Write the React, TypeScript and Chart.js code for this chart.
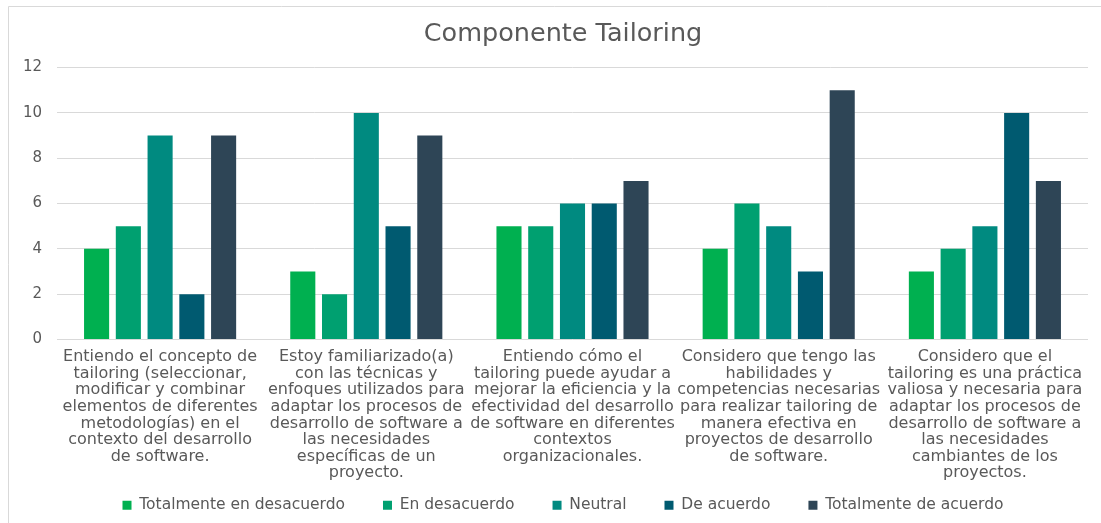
import React, { useEffect, useRef } from "react";
import { Chart, registerables } from "chart.js";

Chart.register(...registerables);

const categories: string[][] = [
  ["Entiendo el concepto de", "tailoring (seleccionar,", "modificar y combinar", "elementos de diferentes", "metodologías) en el", "contexto del desarrollo", "de software."],
  ["Estoy familiarizado(a)", "con las técnicas y", "enfoques utilizados para", "adaptar los procesos de", "desarrollo de software a", "las necesidades", "específicas de un", "proyecto."],
  ["Entiendo cómo el", "tailoring puede ayudar a", "mejorar la eficiencia y la", "efectividad del desarrollo", "de software en diferentes", "contextos", "organizacionales."],
  ["Considero que tengo las", "habilidades y", "competencias necesarias", "para realizar tailoring de", "manera efectiva en", "proyectos de desarrollo", "de software."],
  ["Considero que el", "tailoring es una práctica", "valiosa y necesaria para", "adaptar los procesos de", "desarrollo de software a", "las necesidades", "cambiantes de los", "proyectos."],
];

const seriesNames = ["Totalmente en desacuerdo", "En desacuerdo", "Neutral", "De acuerdo", "Totalmente de acuerdo"];
const totalmenteEnDesacuerdo = [4, 3, 5, 4, 3];
const enDesacuerdo = [5, 2, 5, 6, 4];
const neutral = [9, 10, 6, 5, 5];
const deAcuerdo = [2, 5, 6, 3, 10];
const totalmenteDeAcuerdo = [9, 9, 7, 11, 7];
const seriesColors = ["#00B050", "#00A070", "#008A80", "#005A70", "#2E4556"];
const yTicks = [0, 2, 4, 6, 8, 10, 12];

const FONT = "'DejaVu Sans', sans-serif";
const TEXT = "#595959";

const framePlugin = {
  id: "frame",
  afterLayout(chart: any) {
    // let multi-line tick labels and y labels draw outside their boxes without clipping
    if (chart.scales.x) chart.scales.x.bottom = chart.height;
    if (chart.scales.y) chart.scales.y.left = 0;
  },
  beforeDraw(chart: any) {
    const ctx = chart.ctx;
    ctx.save();
    ctx.fillStyle = "#ffffff";
    ctx.fillRect(0, 0, chart.width, chart.height);
    ctx.strokeStyle = "#d9d9d9";
    ctx.lineWidth = 1;
    ctx.beginPath();
    ctx.moveTo(8.5, chart.height);
    ctx.lineTo(8.5, 6.5);
    ctx.lineTo(chart.width, 6.5);
    ctx.stroke();
    ctx.restore();
  },
};

export default function App() {
  const ref = useRef<HTMLCanvasElement | null>(null);
  useEffect(() => {
    if (!ref.current) return;
    const values = [totalmenteEnDesacuerdo, enDesacuerdo, neutral, deAcuerdo, totalmenteDeAcuerdo];
    const chart = new Chart(ref.current, {
      type: "bar",
      data: {
        labels: categories,
        datasets: seriesNames.map((name, i) => ({
          label: name,
          data: values[i],
          backgroundColor: seriesColors[i],
          borderWidth: 0,
          categoryPercentage: 0.77,
          barPercentage: 0.79,
        })),
      },
      plugins: [framePlugin],
      options: {
        animation: false,
        responsive: true,
        maintainAspectRatio: false,
        layout: { padding: { left: 38, right: 13, top: 0, bottom: 0 } },
        plugins: {
          title: {
            display: true,
            text: "Componente Tailoring",
            color: TEXT,
            font: { family: FONT, size: 25.5, weight: "normal", lineHeight: 1.2 },
            padding: { top: 19, bottom: 18 },
          },
          legend: {
            position: "bottom",
            labels: {
              color: TEXT,
              font: { family: FONT, size: 15.5 },
              boxWidth: 9,
              boxHeight: 9,
              padding: 38,
            },
          },
          tooltip: { enabled: false },
        },
        scales: {
          x: {
            afterFit: (s: any) => {
              s.height = 120;
            },
            grid: { display: false },
            border: { display: false },
            ticks: {
              color: TEXT,
              font: { family: FONT, size: 16, lineHeight: 1.04 },
              autoSkip: false,
              maxRotation: 0,
              minRotation: 0,
              padding: 1,
            },
          },
          y: {
            min: 0,
            max: 12,
            afterFit: (s: any) => {
              s.width = 19;
            },
            afterBuildTicks: (s: any) => {
              s.ticks = yTicks.map((v) => ({ value: v }));
            },
            grid: { color: "#d9d9d9", drawTicks: false },
            border: { display: false },
            ticks: {
              color: TEXT,
              font: { family: FONT, size: 15 },
              padding: 15,
            },
          },
        },
      },
    });
    return () => chart.destroy();
  }, []);
  return (
    <div style={{ position: "fixed", left: 0, top: 0, width: 1101, height: 523, background: "#fff" }}>
      <canvas ref={ref} />
    </div>
  );
}
